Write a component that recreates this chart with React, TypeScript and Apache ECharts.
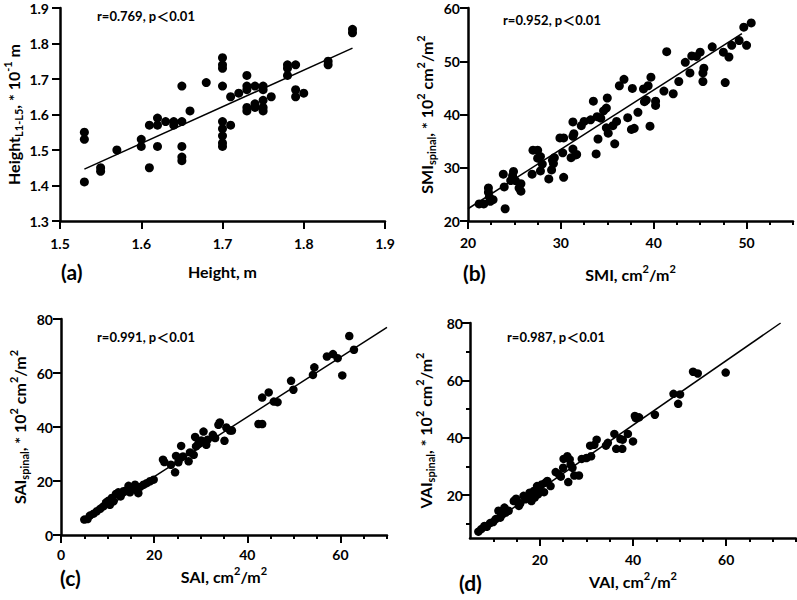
import React, { useEffect, useRef } from "react";
import * as echarts from "echarts";

type P = [number, number];

const FONT = "Lato, 'Noto Sans', 'Noto Sans CJK SC', sans-serif";

// ---------- data ----------
const heightPoints: P[] = [
  [1.53, 1.55], [1.53, 1.53], [1.53, 1.41], [1.55, 1.45], [1.55, 1.44], [1.57, 1.5],
  [1.6, 1.53], [1.6, 1.51], [1.61, 1.57], [1.61, 1.45], [1.62, 1.59], [1.62, 1.57],
  [1.62, 1.51], [1.63, 1.58], [1.64, 1.58], [1.64, 1.57], [1.65, 1.68], [1.65, 1.58],
  [1.65, 1.51], [1.65, 1.48], [1.65, 1.47], [1.66, 1.61], [1.68, 1.69], [1.7, 1.76],
  [1.7, 1.74], [1.7, 1.73], [1.7, 1.68], [1.7, 1.58], [1.7, 1.56], [1.7, 1.54],
  [1.7, 1.52], [1.7, 1.51], [1.71, 1.65], [1.71, 1.57], [1.72, 1.66], [1.73, 1.71],
  [1.73, 1.68], [1.73, 1.67], [1.73, 1.62], [1.73, 1.61], [1.74, 1.68], [1.74, 1.63],
  [1.74, 1.62], [1.75, 1.68], [1.75, 1.67], [1.75, 1.64], [1.75, 1.62], [1.75, 1.61],
  [1.76, 1.65], [1.78, 1.74], [1.78, 1.73], [1.78, 1.71], [1.79, 1.74], [1.79, 1.67],
  [1.79, 1.65], [1.8, 1.66], [1.83, 1.75], [1.83, 1.74], [1.86, 1.84], [1.86, 1.83],
];
const heightFit: P[] = [[1.53, 1.446], [1.86, 1.787]];

const smiPoints: P[] = [
  [21.2, 23.2], [21.7, 23.2], [22.2, 26.2], [22.2, 25.4], [22.3, 24.5], [22.4, 23.7],
  [22.7, 24.0], [23.8, 28.8], [23.9, 26.4], [24.0, 22.3], [24.6, 27.6], [24.8, 28.5],
  [24.9, 29.3], [25.1, 27.6], [25.5, 26.2], [25.7, 27.0], [25.7, 25.6], [26.9, 28.8],
  [27.0, 33.3], [27.5, 33.3], [27.5, 31.8], [27.8, 32.1], [27.8, 29.4], [28.0, 30.7],
  [28.7, 27.9], [29.0, 29.6], [29.1, 31.4], [29.2, 30.8], [29.3, 31.9], [29.9, 35.6],
  [30.3, 35.6], [30.2, 32.8], [30.3, 28.2], [31.1, 31.9], [31.3, 33.5], [31.3, 35.9],
  [31.3, 38.6], [31.4, 36.4], [31.6, 32.4], [31.7, 32.5], [32.2, 37.9], [32.5, 38.7],
  [33.2, 39.0], [33.5, 42.5], [33.8, 32.6], [34.0, 35.4], [33.9, 39.6], [34.3, 39.3],
  [34.6, 40.7], [34.9, 41.2], [34.9, 37.5], [35.0, 43.1], [35.1, 36.5], [35.6, 37.9],
  [35.8, 34.5], [36.0, 38.7], [36.3, 45.4], [36.8, 46.6], [37.2, 39.4], [37.6, 37.2],
  [37.7, 44.9], [37.9, 37.4], [38.3, 40.4], [38.9, 44.8], [39.0, 42.4], [39.2, 42.7],
  [39.4, 45.4], [39.6, 37.8], [39.7, 47.0], [40.2, 42.5], [40.2, 41.7], [41.1, 44.4],
  [41.4, 51.8], [42.1, 43.9], [42.7, 46.2], [43.4, 49.8], [43.9, 47.8], [44.1, 51.0],
  [44.6, 50.9], [45.0, 51.7], [45.3, 47.8], [45.4, 48.7], [45.3, 46.2], [46.3, 52.7],
  [47.5, 51.7], [47.7, 46.0], [48.1, 50.8], [48.4, 53.0], [49.2, 53.9], [49.7, 56.4],
  [50.0, 53.0], [50.5, 57.2],
];
const smiFit: P[] = [[20, 22.3], [49.5, 55.2]];

const saiPoints: P[] = [
  [5.0, 5.7], [5.7, 5.9], [6.2, 7.2], [7.0, 7.9], [7.7, 8.8], [8.4, 9.7], [9.1, 10.6],
  [9.7, 12.1], [10.2, 12.7], [10.5, 11.2], [10.9, 13.7], [11.3, 12.5], [11.8, 15.2],
  [12.3, 15.8], [12.8, 14.3], [13.4, 16.2], [14.0, 16.5], [14.5, 18.2], [14.8, 15.8],
  [15.4, 17.4], [15.9, 18.6], [16.1, 16.8], [16.6, 15.5], [17.0, 17.8], [17.7, 18.6],
  [18.4, 19.2], [19.1, 19.9], [19.9, 20.5], [21.9, 27.9], [22.2, 27.0], [23.6, 26.0],
  [24.5, 23.2], [24.7, 29.3], [25.2, 26.9], [25.6, 28.5], [25.8, 33.0], [26.2, 29.1],
  [27.4, 27.3], [27.7, 30.6], [28.5, 29.7], [28.8, 36.3], [29.0, 32.8], [29.5, 33.8],
  [30.1, 35.0], [30.6, 38.3], [31.2, 33.4], [31.5, 35.3], [32.6, 37.1], [33.1, 35.9],
  [33.8, 40.8], [34.1, 41.7], [35.1, 34.9], [35.5, 39.8], [36.3, 38.7], [36.7, 38.7],
  [42.4, 41.1], [43.2, 41.1], [43.2, 50.9], [44.6, 52.8], [45.7, 49.4], [46.5, 49.2],
  [49.4, 57.1], [49.9, 53.8], [54.1, 59.3], [54.4, 62.1], [57.1, 66.1], [58.4, 67.0],
  [59.4, 65.5], [60.4, 59.1], [61.9, 73.7], [62.9, 68.6],
];
const saiFit: P[] = [[5, 5.0], [70, 76.9]];

const vaiPoints: P[] = [
  [6.8, 7.2], [7.4, 8.1], [8.1, 9.2], [8.6, 8.9], [9.3, 10.2], [10.0, 10.6], [10.5, 11.6],
  [11.1, 14.5], [11.5, 12.1], [12.0, 13.3], [12.4, 15.6], [12.7, 13.9], [13.3, 14.5],
  [14.4, 17.9], [14.9, 18.7], [15.5, 16.2], [15.8, 17.1], [16.5, 19.7], [16.9, 18.5],
  [17.5, 19.1], [17.8, 20.8], [18.2, 17.9], [18.5, 19.7], [18.7, 21.4], [18.9, 19.1],
  [19.4, 23.1], [19.6, 20.2], [19.9, 22.0], [20.4, 23.7], [20.9, 21.0], [21.2, 24.3],
  [21.6, 24.9], [22.3, 23.1], [23.4, 28.0], [24.1, 27.2], [24.5, 26.4], [25.0, 29.5],
  [25.1, 32.6], [25.9, 33.5], [26.1, 24.5], [26.4, 32.4], [26.6, 30.6], [27.0, 29.5],
  [27.4, 26.8], [28.4, 26.8], [29.0, 32.6], [30.0, 32.9], [30.8, 37.2], [31.0, 33.5],
  [31.7, 37.5], [32.2, 39.3], [34.2, 37.2], [34.6, 38.2], [36.0, 41.3], [36.4, 36.1],
  [37.3, 39.5], [37.7, 36.1], [37.8, 39.3], [38.9, 41.3], [40.0, 38.7], [40.4, 47.6],
  [40.6, 46.8], [41.3, 47.1], [44.7, 48.0], [48.7, 55.3], [49.7, 51.8], [50.1, 55.1],
  [52.9, 63.0], [53.9, 62.4], [59.9, 62.7],
];
const vaiFit: P[] = [[7, 7.3], [71.7, 80]];

// tick values
const aXMajor = [1.5, 1.6, 1.7, 1.8, 1.9];
const aYMajor = [1.3, 1.4, 1.5, 1.6, 1.7, 1.8, 1.9];
const bXMajor = [20, 30, 40, 50];
const bXMinor = [22.5, 25, 27.5, 32.5, 35, 37.5, 42.5, 45, 47.5, 52.5, 55];
const bYMajor = [20, 30, 40, 50, 60];
const cXMajor = [0, 20, 40, 60];
const cXMinor = [5, 10, 15, 25, 30, 35, 45, 50, 55, 65, 70];
const cYMajor = [0, 20, 40, 60, 80];
const dXMajor = [20, 40, 60];
const dXMinor = [10, 15, 25, 30, 35, 45, 50, 55, 65, 70, 75];
const dYMajor = [20, 40, 60, 80];
const dYMinor = [10, 30, 50, 70];

const stats = ["r=0.769, p＜0.01", "r=0.952, p＜0.01", "r=0.991, p＜0.01", "r=0.987, p＜0.01"];
const panelTags = ["(a)", "(b)", "(c)", "(d)"];

const rich = {
  m: { fontSize: 16, fontWeight: "bold", fontFamily: FONT, color: "#000", lineHeight: 22 },
  sup: { fontSize: 11, fontWeight: "bold", fontFamily: FONT, color: "#000", verticalAlign: "top", lineHeight: 12 },
  sub: { fontSize: 11, fontWeight: "bold", fontFamily: FONT, color: "#000", verticalAlign: "bottom", lineHeight: 12 },
};

interface Panel {
  grid: { left: number; top: number; width: number; height: number };
  xMin: number; xMax: number; yMin: number; yMax: number;
  xMajor: number[]; xMinor: number[]; yMajor: number[]; yMinor: number[];
  xName: string; yName: string; xNameGap: number; yNameGap: number;
  xLabelMargin: number; yLabelMargin: number;
  points: P[]; fit: P[]; dot: number;
  stat: [number, number]; tag: [number, number];
}

const panels: Panel[] = [
  {
    grid: { left: 60, top: 8, width: 325, height: 213 },
    xMin: 1.5, xMax: 1.9, yMin: 1.3, yMax: 1.9,
    xMajor: aXMajor, xMinor: [], yMajor: aYMajor, yMinor: [],
    xName: "{m|Height, m}",
    yName: "{m|Height}{sub|L1-L5}{m|, * 10}{sup|-1}{m| m}",
    xNameGap: 39, yNameGap: 36, xLabelMargin: 15, yLabelMargin: 11,
    points: heightPoints, fit: heightFit, dot: 9,
    stat: [97, 16], tag: [61, 271],
  },
  {
    grid: { left: 468, top: 8, width: 325, height: 213 },
    xMin: 20, xMax: 55, yMin: 20, yMax: 60,
    xMajor: bXMajor, xMinor: bXMinor, yMajor: bYMajor, yMinor: [],
    xName: "{m|SMI, cm}{sup|2}{m|/m}{sup|2}",
    yName: "{m|SMI}{sub|spinal}{m|, * 10}{sup|2}{m| cm}{sup|2}{m|/m}{sup|2}",
    xNameGap: 42, yNameGap: 31, xLabelMargin: 14, yLabelMargin: 8,
    points: smiPoints, fit: smiFit, dot: 9,
    stat: [503, 20], tag: [463, 272],
  },
  {
    grid: { left: 61, top: 319, width: 326, height: 216 },
    xMin: 0, xMax: 70, yMin: 0, yMax: 80,
    xMajor: cXMajor, xMinor: cXMinor, yMajor: cYMajor, yMinor: [],
    xName: "{m|SAI, cm}{sup|2}{m|/m}{sup|2}",
    yName: "{m|SAI}{sub|spinal}{m|, * 10}{sup|2}{m| cm}{sup|2}{m|/m}{sup|2}",
    xNameGap: 30, yNameGap: 31, xLabelMargin: 12, yLabelMargin: 8,
    points: saiPoints, fit: saiFit, dot: 8.5,
    stat: [97, 337], tag: [60, 577],
  },
  {
    grid: { left: 470, top: 323, width: 326, height: 215 },
    xMin: 5, xMax: 75, yMin: 5, yMax: 80,
    xMajor: dXMajor, xMinor: dXMinor, yMajor: dYMajor, yMinor: dYMinor,
    xName: "{m|VAI, cm}{sup|2}{m|/m}{sup|2}",
    yName: "{m|VAI}{sub|spinal}{m|, * 10}{sup|2}{m| cm}{sup|2}{m|/m}{sup|2}",
    xNameGap: 32, yNameGap: 34, xLabelMargin: 14, yLabelMargin: 7,
    points: vaiPoints, fit: vaiFit, dot: 8.5,
    stat: [507, 337], tag: [459, 582],
  },
];

function buildOption() {
  const grid: any[] = [];
  const xAxis: any[] = [];
  const yAxis: any[] = [];
  const series: any[] = [];
  const graphic: any[] = [];
  const line = { show: true, onZero: false, lineStyle: { color: "#000", width: 2.5 } };
  const label = (margin: number, values: number[]) => ({
    show: true, customValues: values, margin, fontSize: 14, fontWeight: "bold",
    fontFamily: FONT, color: "#000",
  });
  panels.forEach((p, i) => {
    grid.push({ ...p.grid, containLabel: false, outerBoundsMode: "none" });
    xAxis.push({
      type: "value", gridIndex: i, position: "bottom", min: p.xMin, max: p.xMax,
      axisLine: line, splitLine: { show: false },
      axisTick: { show: true, customValues: p.xMajor, length: 8, lineStyle: { color: "#000", width: 2 } },
      axisLabel: label(p.xLabelMargin, p.xMajor),
      name: p.xName, nameLocation: "middle", nameGap: p.xNameGap,
      nameTextStyle: { rich },
    });
    xAxis.push({
      type: "value", gridIndex: i, position: "bottom", min: p.xMin, max: p.xMax,
      axisLine: { show: false, onZero: false }, splitLine: { show: false },
      axisTick: { show: p.xMinor.length > 0, customValues: p.xMinor, length: 4, lineStyle: { color: "#000", width: 2 } },
      axisLabel: { show: false },
    });
    yAxis.push({
      type: "value", gridIndex: i, position: "left", min: p.yMin, max: p.yMax,
      axisLine: line, splitLine: { show: false },
      axisTick: { show: true, customValues: p.yMajor, length: 8, lineStyle: { color: "#000", width: 2 } },
      axisLabel: label(p.yLabelMargin, p.yMajor),
      name: p.yName, nameLocation: "middle", nameGap: p.yNameGap, nameRotate: 90,
      nameTextStyle: { rich },
    });
    yAxis.push({
      type: "value", gridIndex: i, position: "left", min: p.yMin, max: p.yMax,
      axisLine: { show: false, onZero: false }, splitLine: { show: false },
      axisTick: { show: p.yMinor.length > 0, customValues: p.yMinor, length: 4, lineStyle: { color: "#000", width: 2 } },
      axisLabel: { show: false },
    });
    series.push({
      type: "line", xAxisIndex: 2 * i, yAxisIndex: 2 * i, data: p.fit,
      symbol: "none", lineStyle: { color: "#000", width: 1.5 }, z: 2,
    });
    series.push({
      type: "scatter", xAxisIndex: 2 * i, yAxisIndex: 2 * i, data: p.points,
      symbol: "circle", symbolSize: p.dot, itemStyle: { color: "#000", opacity: 1 }, z: 3,
    });
    graphic.push({
      type: "text", x: p.stat[0], y: p.stat[1],
      style: { text: stats[i], fontSize: 13, fontWeight: "bold", fontFamily: FONT, fill: "#000", verticalAlign: "middle", textVerticalAlign: "middle" },
    });
    graphic.push({
      type: "text", x: p.tag[0], y: p.tag[1],
      style: { text: panelTags[i], fontSize: 21, fontWeight: "bold", fontFamily: FONT, fill: "#000", verticalAlign: "middle", textVerticalAlign: "middle" },
    });
  });
  return { animation: false, backgroundColor: "#fff", grid, xAxis, yAxis, series, graphic };
}

export default function App() {
  const ref = useRef<HTMLDivElement>(null);
  useEffect(() => {
    if (!ref.current) return;
    const chart = echarts.init(ref.current, undefined, { renderer: "svg" });
    chart.setOption(buildOption() as any);
    return () => chart.dispose();
  }, []);
  return (
    <div
      ref={ref}
      style={{ position: "fixed", left: 0, top: 0, width: 797, height: 600, background: "#fff" }}
    />
  );
}
